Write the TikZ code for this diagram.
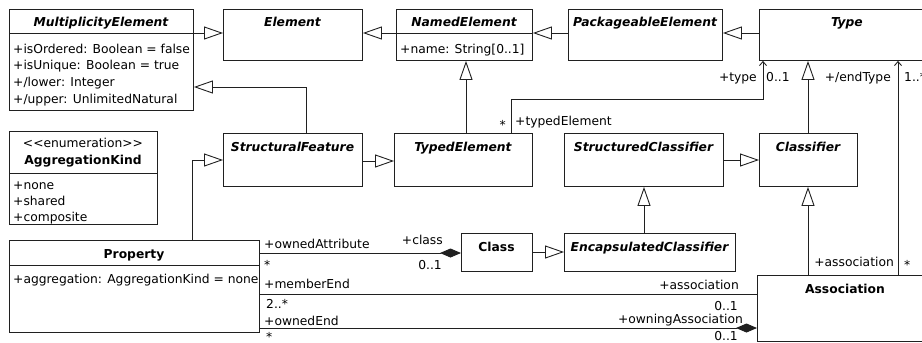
\documentclass[tikz,border=0pt]{standalone}
\usepackage{fontspec}
\setmainfont{DejaVu Sans}
\usetikzlibrary{arrows.meta}
\definecolor{linec}{HTML}{202020}

\tikzset{
  ln/.style={draw=linec, line width=0.9pt},
  box/.style={ln, anchor=north west, inner sep=0pt, fill=white},
  txt/.style={inner sep=0pt, text height=10pt, text depth=0pt, font=\fontsize{12.3}{15}\selectfont},
  ttl/.style={txt, font=\fontsize{12.3}{15}\selectfont\bfseries\itshape},
  cttl/.style={txt, font=\fontsize{12.3}{15}\selectfont\bfseries},
  attr/.style={txt, anchor=west},
  gen/.style={ln, -{Triangle[open, length=19pt, width=13pt]}},
  nav/.style={ln, -{Straight Barb[length=4pt, width=7pt]}},
  comp/.style={ln, -{Diamond[length=21pt, width=9pt]}},
  plain/.style={ln},
}

% box: name, left, top, right, bottom
\newcommand\umlbox[5]{%
  \node[box, minimum width={#4-#2}, minimum height={#5-#3}] (#1) at (#2,#3) {};}
% compartment separator inside a box
\newcommand\umlsep[2]{\draw[ln] (#1.west |- 0,#2) -- (#1.east |- 0,#2);}

\begin{document}
\begin{tikzpicture}[x=1pt, y=-1pt]
\useasboundingbox (0,0) rectangle (922,343);
\clip (0,0) rectangle (922,343);

% ---------------- boxes ----------------
\umlbox{mult}{9}{9}{193}{110}
\umlbox{elem}{223}{9}{362}{60}
\umlbox{named}{396}{9}{532}{60}
\umlbox{pack}{568}{9}{722}{60}
\umlbox{type}{759}{9}{935}{60}
\umlbox{aggk}{9}{131}{157}{224}
\umlbox{sfeat}{223}{133}{362}{186}
\umlbox{typed}{394}{133}{532}{186}
\umlbox{sclass}{564}{133}{723}{186}
\umlbox{classif}{759}{133}{857}{186}
\umlbox{prop}{9}{240}{259}{332}
\umlbox{cls}{461}{233}{532}{271}
\umlbox{encap}{564}{233}{735}{271}
\umlbox{assoc}{757}{275}{935}{341}

\umlsep{mult}{33}
\umlsep{named}{33}
\umlsep{aggk}{173}
\umlsep{prop}{265}

% ---------------- titles ----------------
\node[ttl] (tmult) at (101,21) {MultiplicityElement};
\node[ttl] (telem) at (292.5,21) {Element};
\node[ttl] (tnamed) at (464,21) {NamedElement};
\node[ttl] (tpack) at (645,21) {PackageableElement};
\node[ttl] (ttype) at (847,21) {Type};
\node[txt] (taggs) at (83,142) {<{}<enumeration>{}>};
\node[cttl] (taggk) at (83,159) {AggregationKind};
\node[ttl] (tsfeat) at (292.5,146) {StructuralFeature};
\node[ttl] (ttyped) at (463,146) {TypedElement};
\node[ttl] (tsclass) at (643.5,146) {StructuredClassifier};
\node[ttl] (tclassif) at (808,146) {Classifier};
\node[cttl] (tprop) at (134,253) {Property};
\node[cttl] (tcls) at (496.5,246) {Class};
\node[ttl] (tencap) at (649.5,246) {EncapsulatedClassifier};
\node[cttl] (tassoc) at (845,288) {Association};

% ---------------- attributes ----------------
\node[attr] (a1) at (13,48) {+isOrdered: Boolean = false};
\node[attr] (a2) at (13,64.7) {+isUnique: Boolean = true};
\node[attr] (a3) at (13,81.4) {+/lower: Integer};
\node[attr] (a4) at (13,98) {+/upper: UnlimitedNatural};
\node[attr] (a5) at (400,48) {+name: String[0..1]};
\node[attr] (a6) at (13,184) {+none};
\node[attr] (a7) at (13,200) {+shared};
\node[attr] (a8) at (13,216) {+composite};
\node[attr] (a9) at (13,278.5) {+aggregation: AggregationKind = none};

% ---------------- generalizations ----------------
\draw[gen] (mult.east |- 0,33) -- (elem.west |- 0,33);
\draw[gen] (named.west |- 0,33) -- (elem.east |- 0,33);
\draw[gen] (pack.west |- 0,33) -- (named.east |- 0,33);
\draw[gen] (type.west |- 0,33) -- (pack.east |- 0,33);
\draw[gen] (typed.north -| 466,0) -- (named.south -| 466,0);
\draw[gen] (sfeat.north -| 306,0) -- (306,87) -- (mult.east |- 0,87);
\draw[gen] (sfeat.east |- 0,161) -- (typed.west |- 0,161);
\draw[gen] (prop.north -| 192,0) -- (192,160) -- (sfeat.west |- 0,160);
\draw[gen] (sclass.east |- 0,160) -- (classif.west |- 0,160);
\draw[gen] (classif.north -| 808,0) -- (type.south -| 808,0);
\draw[gen] (encap.north -| 644,0) -- (sclass.south -| 644,0);
\draw[gen] (assoc.north -| 808,0) -- (classif.south -| 808,0);
\draw[gen] (cls.east |- 0,252) -- (encap.west |- 0,252);

% ---------------- associations ----------------
\draw[nav] (typed.north -| 511,0) -- (511,99) -- (763,99) -- (type.south -| 763,0);
\draw[nav] (assoc.north -| 898,0) -- (type.south -| 898,0);
\draw[comp] (prop.east |- 0,253) -- (cls.west |- 0,253);
\draw[plain] (prop.east |- 0,294) -- (assoc.west |- 0,294);
\draw[comp] (prop.east |- 0,328) -- (assoc.west |- 0,328);

% ---------------- role names and multiplicities ----------------
\node[attr] (l1) at (515,120) {+typedElement};
\node[txt, anchor=east] (l2) at (506,124.5) {*};
\node[txt, anchor=east] (l3) at (757,76) {+type};
\node[attr] (l4) at (766,76) {0..1};
\node[txt, anchor=east] (l5) at (891,76) {+/endType};
\node[attr] (l6) at (904,76) {1..*};
\node[txt, anchor=east] (l7) at (894,261) {+association};
\node[attr] (l8) at (904,264.5) {*};

\node[attr] (l9) at (264,243) {+ownedAttribute};
\node[attr] (l10) at (264,264.5) {*};
\node[txt, anchor=east] (l11) at (443,239) {+class};
\node[txt, anchor=east] (l12) at (442,264) {0..1};

\node[attr] (l13) at (264,283) {+memberEnd};
\node[attr] (l14) at (266,303) {2..*};
\node[txt, anchor=east] (l15) at (739,284) {+association};
\node[txt, anchor=east] (l16) at (738,305) {0..1};

\node[attr] (l17) at (264,320) {+ownedEnd};
\node[attr] (l18) at (266,336.5) {*};
\node[txt, anchor=east] (l19) at (743,318) {+owningAssociation};
\node[txt, anchor=east] (l20) at (738,335.5) {0..1};
\end{tikzpicture}
\end{document}
